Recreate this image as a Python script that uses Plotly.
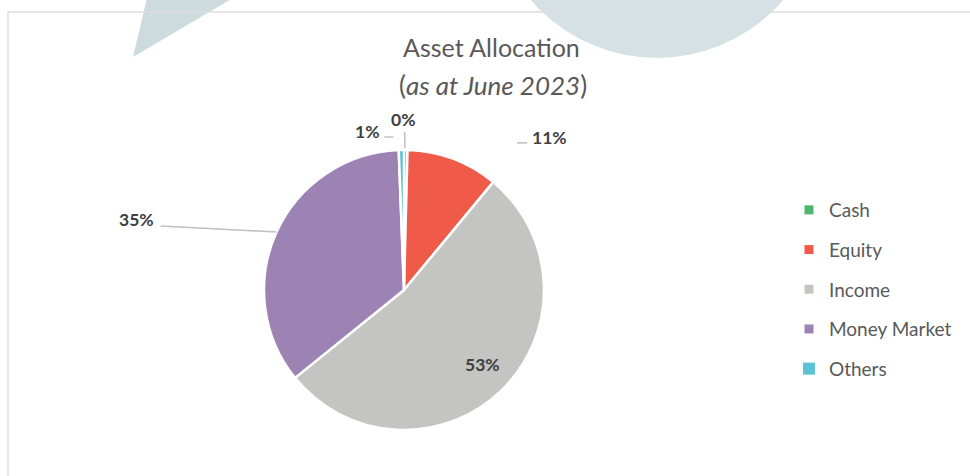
import math
import plotly.graph_objects as go

# ---- data ----
categories = ["Cash", "Equity", "Income", "Money Market", "Others"]
values = [0.4, 10.6, 53.2, 35.2, 0.6]
colors = ["#4DB66E", "#F05A48", "#C4C4C2", "#9C83B4", "#5DC2D5"]

# ---- layout constants (pixels) ----
W, H = 970, 476
PIE_CX, PIE_CY, PIE_R = 404, 290, 140

def px(x):
    return x / W

def py(y):
    return 1 - y / H

# label placement offsets relative to slice edge midpoint (style only)
label_offsets = [(-2, -31), (96, -21), (-20, -25), (-140, -12), (-34, -19)]
label_color = "#404040"
leader_color = "#BFBFBF"

fig = go.Figure()

fig.add_trace(go.Pie(
    labels=categories,
    values=values,
    sort=False,
    direction="clockwise",
    rotation=0,
    marker=dict(colors=colors, line=dict(color="white", width=2.5)),
    textinfo="none",
    hoverinfo="label+percent",
    showlegend=False,
    domain=dict(x=[px(PIE_CX - PIE_R), px(PIE_CX + PIE_R)],
                y=[py(PIE_CY + PIE_R), py(PIE_CY - PIE_R)]),
))

# legend entries (one per category, for spacing control)
for i, (cat, col) in enumerate(zip(categories, colors)):
    fig.add_trace(go.Scatter(
        x=[None], y=[None], mode="markers", name=cat,
        marker=dict(symbol="square", color=col, size=12 if cat == "Others" else 9),
        legendgroup=cat, showlegend=True, hoverinfo="skip",
    ))

# ---- labels computed from data ----
total = sum(values)
annotations = []
shapes = []
cum = 0.0
for i, v in enumerate(values):
    mid = (cum + v / 2) / total * 2 * math.pi
    cum += v
    ex = PIE_CX + PIE_R * math.sin(mid)
    ey = PIE_CY - PIE_R * math.cos(mid)
    dx, dy = label_offsets[i]
    lx, ly = ex + dx, ey + dy
    pct = round(v / total * 100)
    annotations.append(dict(
        x=px(lx), y=py(ly), xref="paper", yref="paper",
        text=f"<b>{pct}%</b>", showarrow=False,
        font=dict(family="Lato, sans-serif", size=17.5, color=label_color),
        xanchor="center", yanchor="middle",
    ))
    name = categories[i]
    if name == "Money Market":
        shapes.append(dict(type="line", xref="paper", yref="paper",
                           x0=px(lx + 24), y0=py(ly + 6), x1=px(ex), y1=py(ey),
                           line=dict(color=leader_color, width=1.5)))
    elif name == "Cash":
        shapes.append(dict(type="line", xref="paper", yref="paper",
                           x0=px(ex - 1), y0=py(ey - 2), x1=px(ex - 1), y1=py(ey - 18),
                           line=dict(color=leader_color, width=1.5)))
    elif name == "Others":
        shapes.append(dict(type="line", xref="paper", yref="paper",
                           x0=px(lx + 17), y0=py(ly + 6), x1=px(lx + 26), y1=py(ly + 6),
                           line=dict(color=leader_color, width=1.5)))
    elif name == "Equity":
        shapes.append(dict(type="line", xref="paper", yref="paper",
                           x0=px(lx - 32), y0=py(ly + 5), x1=px(lx - 22), y1=py(ly + 5),
                           line=dict(color=leader_color, width=1.5)))

# title
annotations.append(dict(
    x=px(491), y=py(47), xref="paper", yref="paper", showarrow=False,
    text="Asset Allocation", xanchor="center", yanchor="middle",
    font=dict(family="Lato, sans-serif", size=25, color="#595959"),
))
annotations.append(dict(
    x=px(493), y=py(85), xref="paper", yref="paper", showarrow=False,
    text="(<i>as at June 2023</i>)", xanchor="center", yanchor="middle",
    font=dict(family="Lato, sans-serif", size=26, color="#595959"),
))

# background watermark shapes
bg_shapes = [
    dict(type="path", xref="paper", yref="paper",
         path=f"M {px(147)},{py(-2)} L {px(233)},{py(-2)} L {px(133)},{py(57)} Z",
         fillcolor="#C9D7DA", line=dict(width=0), layer="below", opacity=0.9),
    dict(type="circle", xref="paper", yref="paper",
         x0=px(657 - 166), x1=px(657 + 166), y0=py(-108 + 166), y1=py(-108 - 166),
         fillcolor="#D0DEE1", line=dict(width=0), layer="below", opacity=0.9),
    dict(type="rect", xref="paper", yref="paper",
         x0=px(8), x1=px(W + 10), y0=py(12), y1=py(H + 10),
         fillcolor="rgba(0,0,0,0)", line=dict(color="#DDDDDD", width=1.5), layer="below"),
]

fig.update_layout(
    width=W, height=H,
    margin=dict(l=0, r=0, t=0, b=0),
    paper_bgcolor="white", plot_bgcolor="white",
    xaxis=dict(visible=False), yaxis=dict(visible=False),
    showlegend=True,
    legend=dict(
        x=px(789), y=py(289.5), xanchor="left", yanchor="middle",
        font=dict(family="Lato, sans-serif", size=19, color="#595959"),
        tracegroupgap=12, traceorder="grouped",
        bgcolor="rgba(0,0,0,0)",
    ),
    annotations=annotations,
    shapes=bg_shapes + shapes,
)

fig.write_html("out.html", config={"displayModeBar": False},
               post_script="document.body.style.margin='0px';")
